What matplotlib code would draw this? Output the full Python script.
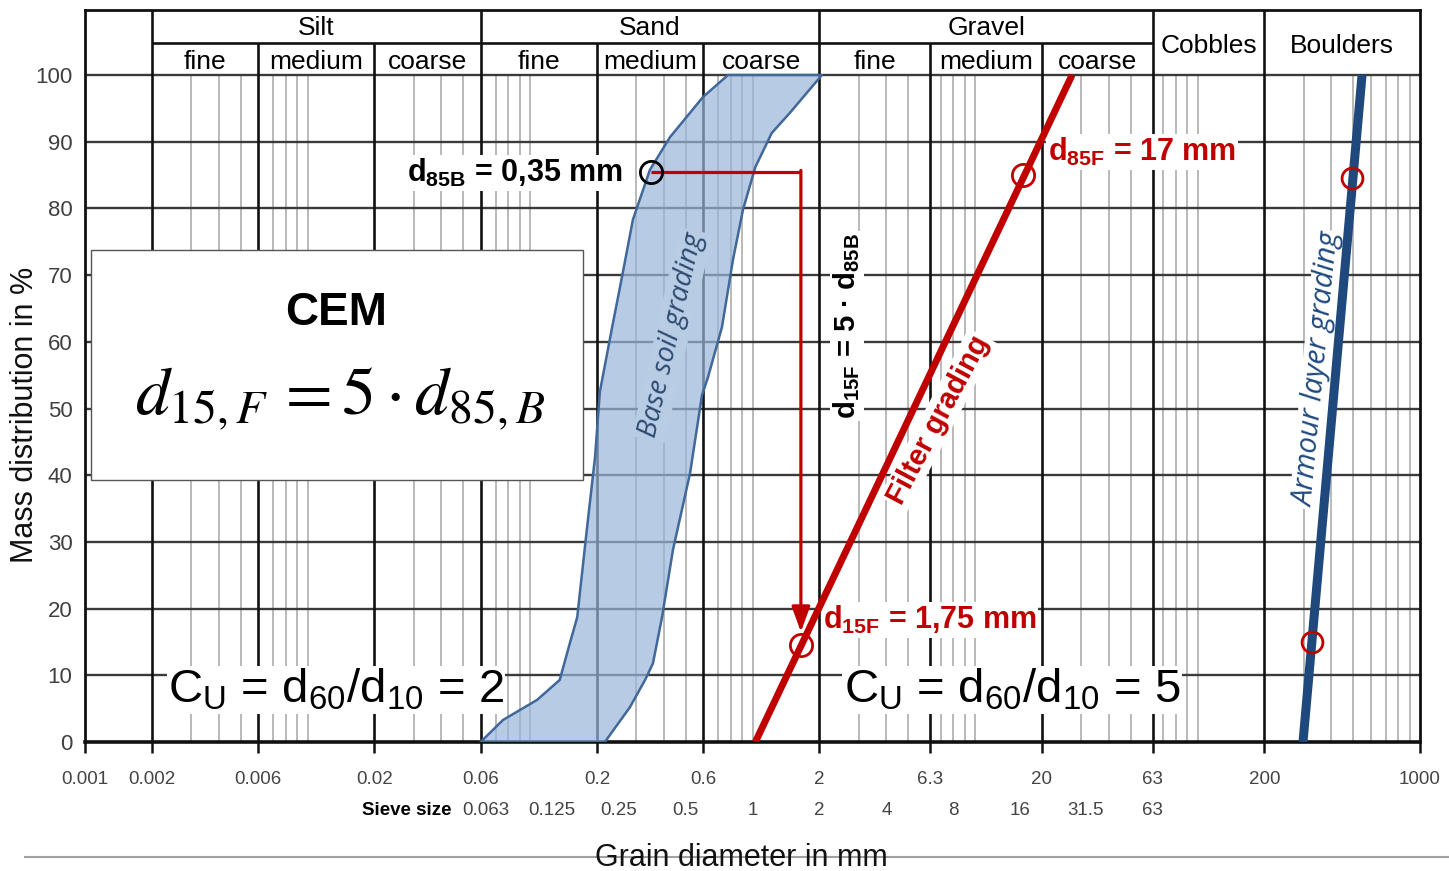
import numpy as np
import matplotlib
matplotlib.use("Agg")
import matplotlib.pyplot as plt
from matplotlib.patches import Rectangle, FancyArrowPatch
from matplotlib.lines import Line2D
from matplotlib.transforms import blended_transform_factory

plt.rcParams['font.family'] = ['Liberation Sans', 'DejaVu Sans']
plt.rcParams['mathtext.fontset'] = 'custom'
plt.rcParams['mathtext.rm'] = 'Liberation Sans'
plt.rcParams['mathtext.it'] = 'Liberation Sans:italic'
plt.rcParams['mathtext.bf'] = 'Liberation Sans:bold'

# ---------------- data ----------------
main_classes = ['Silt', 'Sand', 'Gravel']
main_bounds = [0.002, 0.06, 2, 63]
sub_classes = ['fine', 'medium', 'coarse'] * 3
sub_bounds = [0.002, 0.006, 0.02, 0.06, 0.2, 0.6, 2, 6.3, 20, 63]
big_classes = ['Cobbles', 'Boulders']
big_bounds = [63, 200, 1000]

major_ticks = [0.001, 0.002, 0.006, 0.02, 0.06, 0.2, 0.6, 2, 6.3, 20, 63, 200, 1000]
major_labels = ['0.001', '0.002', '0.006', '0.02', '0.06', '0.2', '0.6', '2', '6.3', '20', '63', '200', '1000']
sieve_vals = [0.063, 0.125, 0.25, 0.5, 1, 2, 4, 8, 16, 31.5, 63]
sieve_labels = ['0.063', '0.125', '0.25', '0.5', '1', '2', '4', '8', '16', '31.5', '63']
y_ticks = list(range(0, 101, 10))

# base soil grading band (fine boundary upward, coarse boundary downward)
base_fine_d = [0.06, 0.0756, 0.1075, 0.136, 0.151, 0.163, 0.180, 0.196, 0.206, 0.234, 0.259, 0.290, 0.346, 0.426, 0.599, 0.776]
base_fine_p = [0, 3.3, 6.3, 9.3, 14.8, 18.7, 31.8, 42.7, 52.5, 62.2, 69.7, 78.3, 85.8, 90.7, 96.7, 100]
base_coarse_d = [2.05, 1.47, 1.22, 1.03, 0.906, 0.817, 0.729, 0.631, 0.593, 0.524, 0.439, 0.392, 0.357, 0.329, 0.281, 0.217]
base_coarse_p = [100, 94.3, 91.3, 86.2, 79.8, 72.3, 62.2, 54.7, 52.0, 40.3, 28.8, 18.7, 11.8, 9.3, 5.2, 0]

filter_d = [1.03, 27.3]
filter_p = [0, 100]
armour_d = [298, 549]
armour_p = [0, 100]

d85B = (0.35, 85.5)
d15F = (1.65, 14.5)
d85F = (16.5, 85.0)
armour_pts_d = [495, 328]
armour_pts_p = [84.6, 15.0]

RED = '#c00000'
ABLUE = '#1f497d'
TOP = 109.75
MID = 104.8

# ---------------- figure ----------------
fig = plt.figure(figsize=(14.49, 8.71), dpi=100)
fig.patch.set_facecolor('white')
ax = fig.add_axes([85/1449, (871-742)/871, 1335/1449, 732/871])
ax.set_xscale('log')
ax.set_xlim(0.001, 1000)
ax.set_ylim(0, TOP)

# minor vertical grid lines
minor = []
for k in range(-3, 3):
    for m in [1, 3, 4, 5, 6, 7, 8, 9]:
        v = m * 10.0**k
        if v <= 0.001 or v >= 1000:
            continue
        if any(abs(np.log10(v) - np.log10(t)) < 0.02 for t in major_ticks):
            continue
        if m == 6 and k in (0, 1):
            continue
        minor.append(v)
ax.vlines(minor, 0, 100, color='#b3b3b3', lw=1.3, zorder=1)
# horizontal grid
ax.hlines(y_ticks[1:], 0.001, 1000, color='#3a3a3a', lw=1.7, zorder=1.5)
# major verticals
inner = [b for b in sub_bounds if b not in main_bounds]
ax.vlines(inner, 0, MID, color='#111111', lw=1.9, zorder=2)
ax.vlines(main_bounds + [200], 0, TOP, color='#111111', lw=1.9, zorder=2)
ax.hlines(MID, main_bounds[0], main_bounds[-1], color='#111111', lw=1.9, zorder=2)

for s in ax.spines.values():
    s.set_color('#111111')
    s.set_linewidth(2.0)
ax.spines['bottom'].set_linewidth(2.6)

# header texts
hdr = dict(fontsize=19, ha='center', va='center', color='black')
for i, name in enumerate(main_classes):
    ax.text(np.sqrt(main_bounds[i]*main_bounds[i+1]), 107.0, name, **hdr)
for i, name in enumerate(sub_classes):
    ax.text(np.sqrt(sub_bounds[i]*sub_bounds[i+1]), 101.9, name, **hdr)
for i, name in enumerate(big_classes):
    ax.text(np.sqrt(big_bounds[i]*big_bounds[i+1]), 104.4, name, **hdr)

# ticks
ax.set_xticks(major_ticks)
ax.set_xticklabels(major_labels)
ax.xaxis.set_minor_locator(matplotlib.ticker.NullLocator())
ax.tick_params(axis='x', length=8, width=1.8, pad=13, labelsize=13.5, labelcolor='#444444', color='#111111')
ax.set_yticks(y_ticks)
ax.tick_params(axis='y', length=0, pad=9, labelsize=16, labelcolor='#404040')

trans = blended_transform_factory(ax.transData, ax.transAxes)
for v, lab in zip(sieve_vals, sieve_labels):
    ax.text(v, -0.094, lab, transform=trans, ha='center', va='center', fontsize=13.5, color='#444444')
ax.text(0.0445, -0.094, 'Sieve size', transform=trans, ha='right', va='center', fontsize=13.5, fontweight='bold', color='black')

# base soil band
band_x = base_fine_d + base_coarse_d
band_y = base_fine_p + base_coarse_p
ax.fill(band_x, band_y, facecolor='#9ab5d9', alpha=0.7, edgecolor='none', zorder=3)
ax.fill(band_x, band_y, facecolor='none', edgecolor='#41689a', lw=1.8, joinstyle='round', zorder=3.2)

# filter and armour lines
ax.plot(filter_d, filter_p, color=RED, lw=5, solid_capstyle='butt', zorder=4)
ax.plot(armour_d, armour_p, color=ABLUE, lw=6.5, solid_capstyle='butt', zorder=4)

# bracket arrow d85B -> d15F
ax.plot([d85B[0], d15F[0]], [d85B[1], d85B[1]], color=RED, lw=2.3, zorder=4.2, solid_capstyle='butt')
arr = FancyArrowPatch((d15F[0], d85B[1] + 0.2), (d15F[0], 16.5), arrowstyle='-|>,head_length=1.1,head_width=0.4',
                      mutation_scale=14, color=RED, lw=2.3, shrinkA=0, shrinkB=0, zorder=4.2)
ax.add_patch(arr)

# markers
ax.plot([d85B[0]], [d85B[1]], 'o', ms=16, mfc='none', mec='black', mew=2.0, zorder=4.5)
ax.plot([d15F[0], d85F[0]], [d15F[1], d85F[1]], 'o', ms=16, mfc='none', mec=RED, mew=2.0, zorder=4.5)
ax.plot(armour_pts_d, armour_pts_p, 'o', ms=15, mfc='none', mec=RED, mew=2.0, zorder=4.5)

wb = dict(facecolor='white', edgecolor='none', pad=1.5)
ax.text(0.262, 85.3, r'd$_\mathbf{85B}$ = 0,35 mm', ha='right', va='center', fontsize=22, fontweight='bold',
        color='black', bbox=wb, zorder=3.6)
ax.text(21.3, 88.5, r'd$_\mathbf{85F}$ = 17 mm', ha='left', va='center', fontsize=22, fontweight='bold',
        color=RED, bbox=wb, zorder=3.6)
ax.text(2.07, 18.3, r'd$_\mathbf{15F}$ = 1,75 mm', ha='left', va='center', fontsize=22, fontweight='bold',
        color=RED, bbox=wb, zorder=3.6)
ax.text(2.66, 62.4, r'd$_\mathbf{15F}$ = 5 · d$_\mathbf{85B}$', ha='center', va='center', rotation=90,
        fontsize=21, fontweight='bold', color='black', bbox=wb, zorder=3.6)
ax.text(6.82, 48.3, 'Filter grading', ha='center', va='center', rotation=62, rotation_mode='anchor',
        fontsize=21, fontweight='bold', color=RED, bbox=wb, zorder=3.6)
ax.text(0.435, 61.0, 'Base soil grading', ha='center', va='center', rotation=77, rotation_mode='anchor',
        fontsize=20, family=['Open Sans', 'DejaVu Sans'], style='italic', color='#2e4a72',
        bbox=dict(facecolor='#b8cce4', edgecolor='none', pad=2), zorder=3.6)
ax.text(350, 55.8, 'Armour layer grading', ha='center', va='center', rotation=84.5, rotation_mode='anchor',
        fontsize=21, family=['Open Sans', 'DejaVu Sans'], style='italic', color=ABLUE,
        bbox=wb, zorder=3.6)

ax.text(0.01342, 7.8, r'C$_\mathrm{U}$ = d$_\mathrm{60}$/d$_\mathrm{10}$ = 2', ha='center', va='center',
        fontsize=34, color='black', bbox=dict(facecolor='white', edgecolor='none', pad=1), zorder=3.6)
ax.text(14.67, 7.8, r'C$_\mathrm{U}$ = d$_\mathrm{60}$/d$_\mathrm{10}$ = 5', ha='center', va='center',
        fontsize=34, color='black', bbox=dict(facecolor='white', edgecolor='none', pad=1), zorder=3.6)

# CEM box
ax.add_patch(Rectangle((0.001064, 39.3), 0.1730 - 0.001064, 73.8 - 39.3, facecolor='white',
                       edgecolor='#555555', lw=1.0, zorder=5))
ax.text(0.01342, 64.3, 'CEM', ha='center', va='center', fontsize=33, fontweight='bold', color='black', zorder=6)
ax.text(0.0140, 51.5, r'$d_{15,F}\,=5\cdot d_{85,B}$', ha='center', va='center', fontsize=49,
        math_fontfamily='stix', color='black', zorder=6)

# axis titles and bottom rule
fig.text(25/1449, 1 - 415/871, 'Mass distribution in %', rotation=90, ha='center', va='center',
         fontsize=22, color='#111111')
fig.add_artist(Line2D([25/1449, 1.0], [14/871, 14/871], color='#a0a0a0', lw=1.5))
fig.text(741/1449, 13/871, 'Grain diameter in mm', ha='center', va='center', fontsize=22, color='#111111')

fig.savefig('out.png', dpi=100, facecolor='white')
